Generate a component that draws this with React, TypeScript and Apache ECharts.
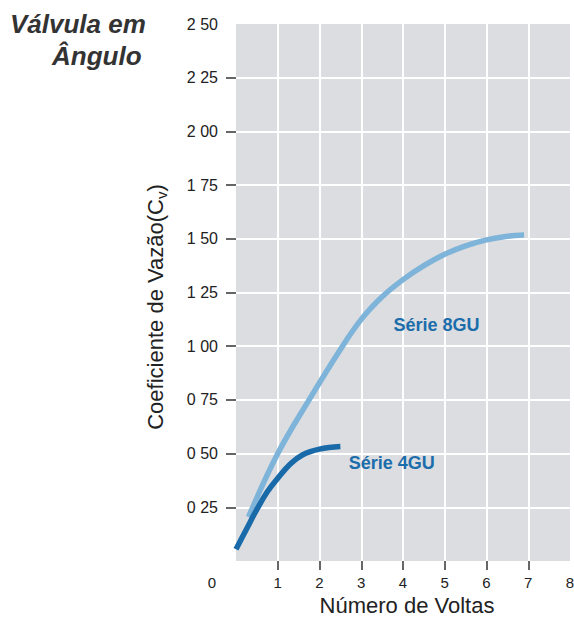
import React, { useEffect, useRef } from "react";
import * as echarts from "echarts";

const xTickValues = [1, 2, 3, 4, 5, 6, 7];
const xLabelValues = [1, 2, 3, 4, 5, 6, 7, 8];
const yTickValues = [0.25, 0.5, 0.75, 1.0, 1.25, 1.5, 1.75, 2.0, 2.25];
const yLabelValues = [0.25, 0.5, 0.75, 1.0, 1.25, 1.5, 1.75, 2.0, 2.25, 2.5];

const serie8GU: [number, number][] = [
  [0.3, 0.205], [1.0, 0.5], [1.75, 0.75], [2.5, 0.985], [3.0, 1.125], [3.5, 1.23],
  [4.0, 1.31], [4.5, 1.375], [5.0, 1.428], [5.5, 1.467], [6.0, 1.495], [6.5, 1.512],
  [6.9, 1.518],
];
const serie4GU: [number, number][] = [
  [0.0, 0.055], [0.25, 0.148], [0.5, 0.24], [0.75, 0.322], [1.0, 0.385],
  [1.3, 0.452], [1.6, 0.495], [2.0, 0.521], [2.5, 0.533],
];
const label8GU = { text: "Série 8GU", coord: [4.8, 1.1] };
const label4GU = { text: "Série 4GU", coord: [3.73, 0.456] };

const FONT = "'Liberation Sans', Arial, Helvetica, sans-serif";
const LIGHT = "#7eb4d9";
const DARK = "#196aa9";
const LABEL_COLOR = "#1b6dab";

const fmt = (v: number) => v.toFixed(2).replace(".", " ");

export default function App() {
  const ref = useRef<HTMLDivElement>(null);
  useEffect(() => {
    if (!ref.current) return;
    const chart = echarts.init(ref.current, null, { renderer: "svg" });
    const mk = (l: { text: string; coord: number[] }) => ({
      symbol: "circle",
      symbolSize: 0,
      data: [{ coord: l.coord, value: l.text }],
      label: {
        show: true,
        position: "inside",
        formatter: l.text,
        color: LABEL_COLOR,
        fontFamily: FONT,
        fontWeight: "bold",
        fontSize: 18,
      },
    });
    chart.setOption({
      animation: false,
      grid: {
        left: 236,
        right: 4,
        top: 24,
        bottom: 56,
        show: true,
        backgroundColor: "#dcdde0",
        borderWidth: 0,
        outerBoundsMode: "none",
        containLabel: false,
      },
      graphic: [
        {
          type: "text",
          left: 10,
          top: 11,
          style: { text: "Válvula em", fontFamily: FONT, fontSize: 26, fontWeight: "bold", fontStyle: "italic", fill: "#333" },
        },
        {
          type: "text",
          left: 52,
          top: 43,
          style: { text: "Ângulo", fontFamily: FONT, fontSize: 26, fontWeight: "bold", fontStyle: "italic", fill: "#333" },
        },
        {
          type: "text",
          x: 212,
          y: 582,
          style: { text: "0", fontFamily: FONT, fontSize: 15, fill: "#222", align: "center", verticalAlign: "middle" },
        },
        {
          type: "text",
          x: 155,
          y: 307,
          rotation: Math.PI / 2,
          style: {
            text: "Coeficiente de Vazão(C{sub|v})",
            fontFamily: FONT,
            fontSize: 22,
            fill: "#222",
            align: "center",
            verticalAlign: "middle",
            rich: { sub: { fontFamily: FONT, fontSize: 15, fill: "#222", padding: [12, 0, 0, 0] } },
          },
        },
      ],
      xAxis: {
        type: "value",
        min: 0,
        max: 8,
        interval: 1,
        offset: 3,
        axisLine: { show: false },
        axisTick: { show: true, customValues: xTickValues, length: 9, lineStyle: { color: "#333", width: 1.5 } },
        axisLabel: { customValues: xLabelValues, margin: 11, fontFamily: FONT, fontSize: 15, color: "#222" },
        splitLine: { show: true, lineStyle: { color: "#ffffff", width: 2 } },
        name: "Número de Voltas",
        nameLocation: "middle",
        nameGap: 30,
        nameTextStyle: { fontFamily: FONT, fontSize: 22, color: "#222", padding: [0, 0, 0, 8], lineHeight: 22 },
      },
      yAxis: {
        type: "value",
        min: 0,
        max: 2.5,
        interval: 0.25,
        offset: 4,
        axisLine: { show: false },
        axisTick: { show: true, customValues: yTickValues, length: 10, lineStyle: { color: "#333", width: 1.5 } },
        axisLabel: { customValues: yLabelValues, margin: 14, fontFamily: FONT, fontSize: 16, color: "#222", formatter: fmt },
        splitLine: { show: true, lineStyle: { color: "#ffffff", width: 2 } },
      },
      series: [
        {
          type: "line",
          data: serie8GU,
          smooth: 0.4,
          symbol: "none",
          lineStyle: { color: LIGHT, width: 5.5 },
          markPoint: mk(label8GU),
        },
        {
          type: "line",
          data: serie4GU,
          smooth: 0.4,
          symbol: "none",
          lineStyle: { color: DARK, width: 5.5 },
          markPoint: mk(label4GU),
        },
      ],
    });
    return () => chart.dispose();
  }, []);
  return <div ref={ref} style={{ width: 574, height: 617, position: "absolute", left: 0, top: 0 }} />;
}
